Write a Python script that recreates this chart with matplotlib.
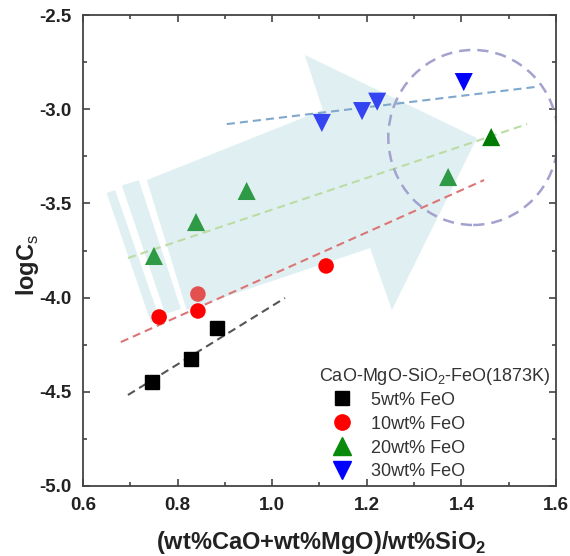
import numpy as np
import matplotlib
matplotlib.use("Agg")
import matplotlib.pyplot as plt
from matplotlib.patches import Polygon, Ellipse
from matplotlib.ticker import MultipleLocator

plt.rcParams['font.family'] = ['Liberation Sans', 'DejaVu Sans']
plt.rcParams['mathtext.fontset'] = 'custom'
plt.rcParams['mathtext.rm'] = 'Liberation Sans'
plt.rcParams['mathtext.bf'] = 'Liberation Sans:bold'
plt.rcParams['axes.unicode_minus'] = False

# Data
x_5 = [0.746, 0.828, 0.883]
y_5 = [-4.448, -4.326, -4.161]

x_10 = [0.761, 0.843, 0.843, 1.114]
y_10 = [-4.103, -4.071, -3.981, -3.832]

x_20 = [0.750, 0.839, 0.946, 1.372, 1.463]
y_20 = [-3.779, -3.599, -3.434, -3.360, -3.148]

x_30 = [1.105, 1.190, 1.222, 1.405]
y_30 = [-3.073, -3.010, -2.960, -2.856]

labels = ["5wt% FeO", "10wt% FeO", "20wt% FeO", "30wt% FeO"]
legend_title = "CaO-MgO-SiO$_2$-FeO(1873K)"

# dashed trend lines (start / end)
fit_x = [[0.695, 1.027], [0.680, 1.448], [0.695, 1.539], [0.904, 1.556]]
fit_y = [[-4.517, -4.002], [-4.236, -3.376], [-3.790, -3.079], [-3.079, -2.882]]

# highlighted region (ellipse) : centre, width, height
circ_center = (1.425, -3.150)
circ_w, circ_h = 0.359, 0.929

# decorative arrow outline (data coords)
arrow_x = [0.735, 1.107, 1.069, 1.433, 1.253, 1.207, 0.819]
arrow_y = [-3.376, -3.004, -2.712, -3.153, -4.066, -3.737, -4.065]
stripe1_x = [0.650, 0.668, 0.763, 0.744]
stripe1_y = [-3.445, -3.429, -4.119, -4.135]
stripe2_x = [0.682, 0.718, 0.807, 0.774]
stripe2_y = [-3.404, -3.377, -4.060, -4.087]

fig = plt.figure(figsize=(5.7, 5.56), dpi=100)
ax = fig.add_axes([0.1456, 0.1259, 0.8298, 0.8471])

arrow_col = '#e0f0f2'
for px, py in [(arrow_x, arrow_y), (stripe1_x, stripe1_y), (stripe2_x, stripe2_y)]:
    ax.add_patch(Polygon(np.column_stack([px, py]), closed=True,
                         facecolor=arrow_col, edgecolor='none', zorder=1))

line_cols = ['#555555', '#dc7676', '#bcdca4', '#80a8cc']
for fx, fy, c in zip(fit_x, fit_y, line_cols):
    ax.plot(fx, fy, color=c, lw=1.5, dashes=(3.9, 2.4), zorder=2)

ax.add_patch(Ellipse(circ_center, circ_w, circ_h, fill=False,
                     edgecolor='#a3a2cf', lw=1.8, linestyle=(0, (4.5, 2.8)), zorder=2))

h1, = ax.plot(x_5, y_5, 's', ms=10, color='black', ls='none', zorder=4)
ax.scatter(x_10, y_10, s=125, c=['#ff0000', '#ff0000', '#e25050', '#ff0000'],
           edgecolors='none', zorder=4)
h2, = ax.plot([], [], 'o', ms=11, color='#ff0000', ls='none')
ax.scatter(x_20, y_20, s=170, marker='^',
           c=['#2e9a45', '#2e9a45', '#2e9a45', '#2e9a45', '#007a00'],
           edgecolors='none', zorder=4)
h3, = ax.plot([], [], '^', ms=13, color='#0a8a0a', ls='none')
ax.scatter(x_30, y_30, s=170, marker='v',
           c=['#3344f0', '#3344f0', '#3344f0', '#0000ff'],
           edgecolors='none', zorder=4)
h4, = ax.plot([], [], 'v', ms=13, color='#0000ff', ls='none')

ax.set_xlim(0.6, 1.6)
ax.set_ylim(-5.0, -2.5)
ax.xaxis.set_major_locator(MultipleLocator(0.2))
ax.xaxis.set_minor_locator(MultipleLocator(0.1))
ax.yaxis.set_major_locator(MultipleLocator(0.5))
ax.yaxis.set_minor_locator(MultipleLocator(0.25))
ax.tick_params(which='both', direction='in', top=True, right=True,
               colors='#444444', labelcolor='#222222', width=1.2)
ax.tick_params(which='major', length=5, pad=8, labelsize=13.5)
ax.tick_params(which='minor', length=3)
for lab in ax.get_xticklabels() + ax.get_yticklabels():
    lab.set_fontweight('bold')
for sp in ax.spines.values():
    sp.set_color('#444444')
    sp.set_linewidth(1.3)

ax.set_xlabel('(wt%CaO+wt%MgO)/wt%SiO$_\\mathbf{2}$', fontsize=17,
              fontweight='bold', va='center', color='#222222')
ax.xaxis.set_label_coords(0.503, -0.119)
ax.set_ylabel('logC$_\\mathrm{s}$', fontsize=17, fontweight='bold',
              va='center', color='#222222')
ax.yaxis.set_label_coords(-0.118, 0.47)

ax.text(0.499, 0.232, legend_title, transform=ax.transAxes, fontsize=13,
        color='#333333', ha='left', va='center')
leg = ax.legend([h1, h2, h3, h4], labels, loc='upper left',
                bbox_to_anchor=(0.529, 0.200), frameon=False, fontsize=13,
                borderpad=0, borderaxespad=0, handlelength=1.0,
                handletextpad=1.1, labelspacing=0.38)
for t in leg.get_texts():
    t.set_color('#333333')

fig.savefig('out.png', dpi=100)
